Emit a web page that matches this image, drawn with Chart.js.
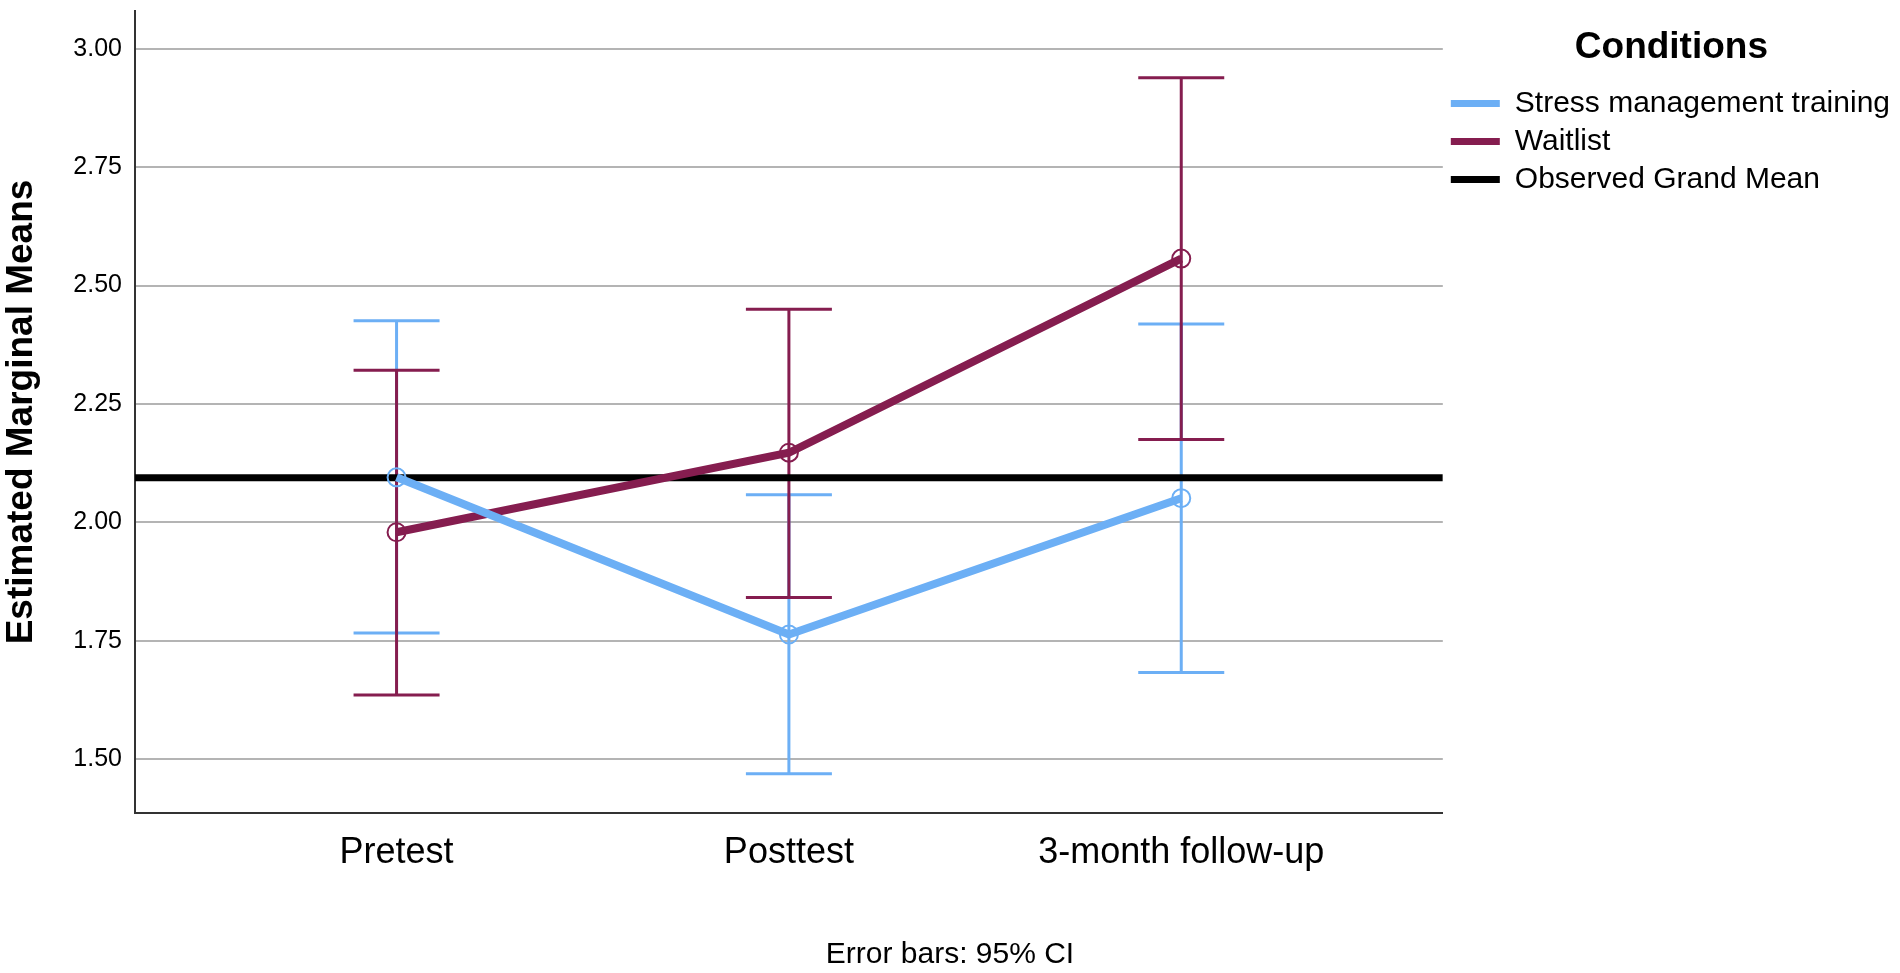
<html lang="en">
<head>
  <meta charset="UTF-8">
  <title>Estimated Marginal Means</title>
  <script src="https://cdn.jsdelivr.net/npm/chart.js"></script>
  <style>
    body { margin: 0; background: #fff; }
  </style>
  <script>
    // values
    const categories = ['Pretest', 'Posttest', '3-month follow-up']
    const stressMeans = [2.095, 1.763, 2.051]
    const stressLower = [1.766, 1.469, 1.683]
    const stressUpper = [2.426, 2.058, 2.419]
    const waitMeans = [1.979, 2.147, 2.557]
    const waitLower = [1.635, 1.841, 2.175]
    const waitUpper = [2.321, 2.450, 2.939]
    const grandMean = 2.094
    const yTicks = [1.50, 1.75, 2.00, 2.25, 2.50, 2.75, 3.00]

    const X_MIN = -2 / 3
    const X_MAX = categories.length - 1 + 2 / 3
    const Y_MIN = 1.386
    const Y_MAX = 3.080

    const BLUE = 'rgb(108,175,245)'
    const MAROON = 'rgb(133,29,79)'
    const FONT = '"Liberation Sans", Arial, Helvetica, sans-serif'

    window.onload = () => {
      const viz = document.getElementById('viz')

      const errorBars = {
        id: 'errorBars',
        beforeDatasetsDraw(chart) {
          const { ctx, scales: { x, y } } = chart
          const sets = [
            { lo: stressLower, hi: stressUpper, color: BLUE },
            { lo: waitLower, hi: waitUpper, color: MAROON }
          ]
          ctx.save()
          ctx.lineWidth = 3
          sets.forEach(s => {
            ctx.strokeStyle = s.color
            s.lo.forEach((lo, i) => {
              const px = x.getPixelForValue(i)
              const y1 = y.getPixelForValue(lo)
              const y2 = y.getPixelForValue(s.hi[i])
              ctx.beginPath()
              ctx.moveTo(px, y1)
              ctx.lineTo(px, y2)
              ctx.moveTo(px - 43, y1)
              ctx.lineTo(px + 43, y1)
              ctx.moveTo(px - 43, y2)
              ctx.lineTo(px + 43, y2)
              ctx.stroke()
            })
          })
          ctx.restore()
        }
      }

      new Chart(viz, {
        type: 'line',
        data: {
          datasets: [{
            label: 'Stress management training',
            data: stressMeans.map((v, i) => ({ x: i, y: v })),
            borderColor: BLUE,
            backgroundColor: BLUE,
            borderWidth: 8,
            pointRadius: 9,
            pointBorderWidth: 2,
            pointBorderColor: BLUE,
            pointBackgroundColor: 'rgba(0,0,0,0)'
          }, {
            label: 'Waitlist',
            data: waitMeans.map((v, i) => ({ x: i, y: v })),
            borderColor: MAROON,
            backgroundColor: MAROON,
            borderWidth: 8,
            pointRadius: 9,
            pointBorderWidth: 2,
            pointBorderColor: MAROON,
            pointBackgroundColor: 'rgba(0,0,0,0)'
          }, {
            label: 'Observed Grand Mean',
            data: [{ x: X_MIN, y: grandMean }, { x: X_MAX, y: grandMean }],
            borderColor: '#000',
            backgroundColor: '#000',
            borderWidth: 7,
            pointRadius: 0
          }]
        },
        options: {
          responsive: false,
          animation: false,
          devicePixelRatio: 1,
          layout: { padding: { top: 9 } },
          scales: {
            x: {
              type: 'linear',
              min: X_MIN,
              max: X_MAX,
              afterBuildTicks: s => { s.ticks = categories.map((c, i) => ({ value: i })) },
              afterFit: s => { s.height = 100; s.paddingLeft = 0; s.paddingRight = 0 },
              ticks: {
                callback: v => categories[v],
                color: '#000',
                font: { family: FONT, size: 36 },
                padding: 18,
                maxRotation: 0,
                autoSkip: false
              },
              grid: { display: false, drawTicks: false },
              border: { display: true, color: '#333', width: 2 }
            },
            y: {
              min: Y_MIN,
              max: Y_MAX,
              afterBuildTicks: s => { s.ticks = yTicks.map(v => ({ value: v })) },
              afterFit: s => { s.width = 135; s.paddingTop = 0; s.paddingBottom = 0 },
              ticks: {
                callback: v => v.toFixed(2),
                color: '#000',
                font: { family: FONT, size: 25 },
                padding: 13
              },
              grid: { color: '#b4b4b4', lineWidth: 2, drawTicks: false },
              border: { display: true, color: '#333', width: 2 },
              title: {
                display: true,
                text: 'Estimated Marginal Means',
                color: '#000',
                font: { family: FONT, size: 37, weight: 'bold' },
                padding: { top: 0, bottom: 0 }
              }
            }
          },
          plugins: {
            legend: {
              position: 'right',
              align: 'start',
              labels: {
                color: '#000',
                font: { family: FONT, size: 30 },
                boxWidth: 49,
                boxHeight: 7,
                padding: 8,
                generateLabels: chart => Chart.defaults.plugins.legend.labels.generateLabels(chart)
                  .map(item => ({ ...item, fillStyle: item.strokeStyle, lineWidth: 0 }))
              },
              title: {
                display: true,
                text: 'Conditions',
                color: '#000',
                font: { family: FONT, size: 37, weight: 'bold' },
                padding: { top: 20, bottom: 7 }
              }
            },
            title: {
              display: true,
              position: 'bottom',
              text: 'Error bars: 95% CI',
              color: '#000',
              font: { family: FONT, size: 30, weight: 'normal' },
              padding: { top: 24, bottom: 0 }
            },
            tooltip: { enabled: false }
          }
        },
        plugins: [errorBars]
      })
    }
  </script>
</head>
<body>
  <canvas id="viz" width="1900" height="973"></canvas>
</body>
</html>
